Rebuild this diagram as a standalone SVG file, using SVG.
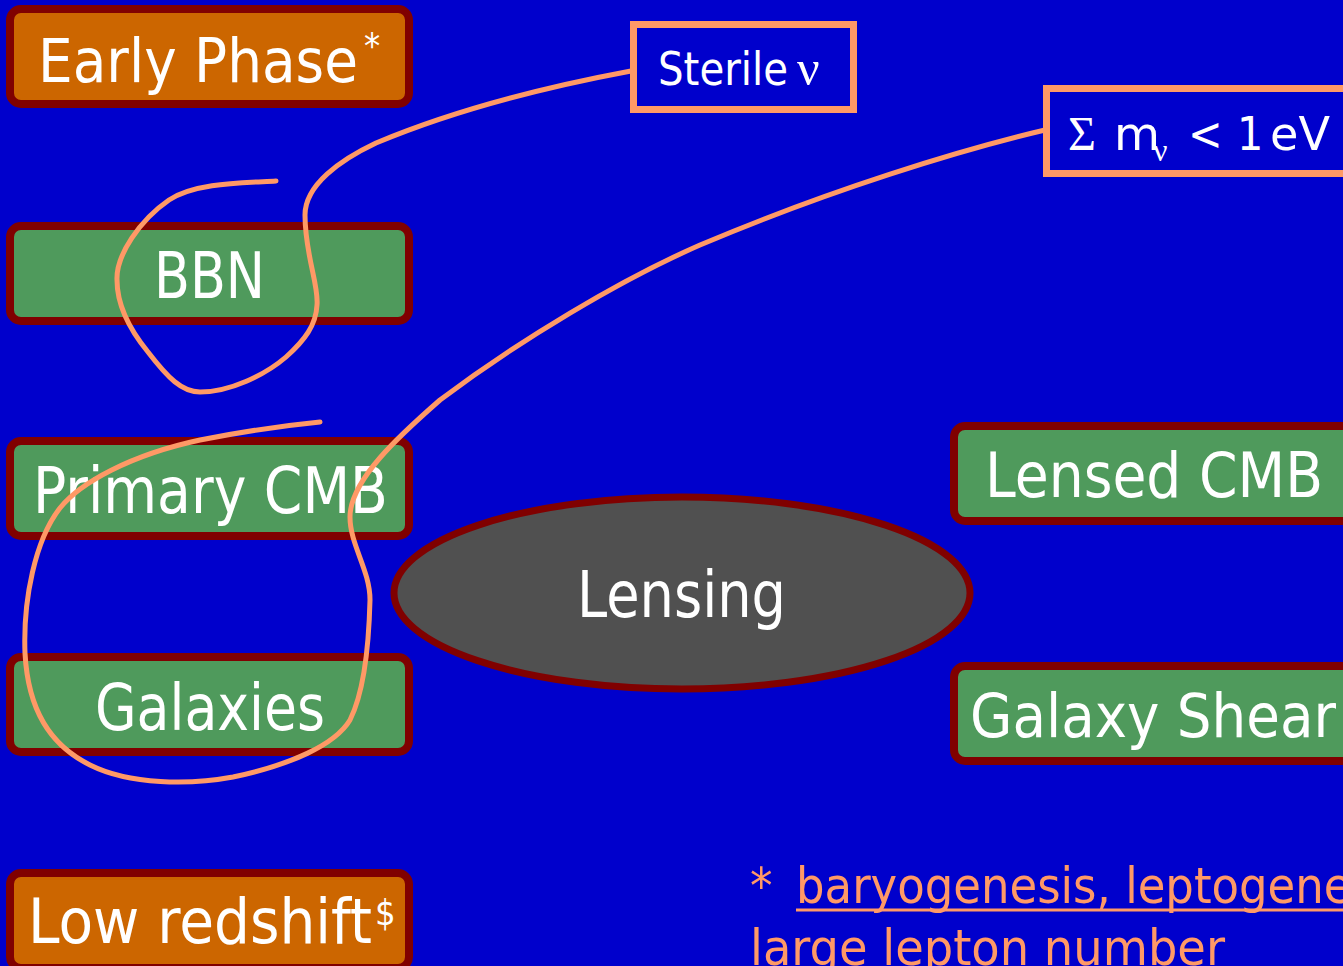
<svg xmlns="http://www.w3.org/2000/svg" width="1343" height="966" viewBox="0 0 1343 966">
<style>
.box{stroke:#800000;stroke-width:8}
.orange{fill:#CC6600}
.green{fill:#4F9A5C}
.lbl{font-family:"DejaVu Sans Condensed","DejaVu Sans",sans-serif;font-stretch:condensed;fill:#FFFFFF}
.sym{font-family:"Liberation Serif","Times New Roman",serif;fill:#FFFFFF}
.note{fill:none;stroke:#FF9966;stroke-width:7}
.curve{fill:none;stroke:#FF9966;stroke-width:5;stroke-linecap:round;stroke-linejoin:round}
.foot{font-family:"DejaVu Sans Condensed","DejaVu Sans",sans-serif;font-stretch:condensed;fill:#FF9966;font-size:50px}
</style>
<rect x="0" y="0" width="1343" height="966" fill="#0000CC"/>

<g id="early-phase">
<rect class="box orange" x="10" y="9" width="399" height="95" rx="11"/>
<text class="lbl" x="38" y="82" font-size="61" textLength="320" lengthAdjust="spacingAndGlyphs">Early Phase</text>
<text class="lbl" x="364" y="58" font-size="36">*</text>
</g>

<g id="bbn">
<rect class="box green" x="10" y="226" width="399" height="95" rx="11"/>
<text class="lbl" x="154" y="298" font-size="64" textLength="111" lengthAdjust="spacingAndGlyphs">BBN</text>
</g>

<g id="primary-cmb">
<rect class="box green" x="10" y="441" width="399" height="95" rx="11"/>
<text class="lbl" x="33" y="513" font-size="64" textLength="355" lengthAdjust="spacingAndGlyphs">Primary CMB</text>
</g>

<g id="galaxies">
<rect class="box green" x="10" y="657" width="399" height="95" rx="11"/>
<text class="lbl" x="95" y="730" font-size="64" textLength="230" lengthAdjust="spacingAndGlyphs">Galaxies</text>
</g>

<g id="low-redshift">
<rect class="box orange" x="10" y="873" width="399" height="95" rx="11"/>
<text class="lbl" x="28" y="943" font-size="62" textLength="344" lengthAdjust="spacingAndGlyphs">Low redshift</text>
<text class="lbl" x="375" y="925" font-size="36">$</text>
</g>

<g id="lensing">
<ellipse cx="682" cy="593" rx="288" ry="96" fill="#505050" stroke="#800000" stroke-width="7"/>
<text class="lbl" x="577" y="617" font-size="64" textLength="209" lengthAdjust="spacingAndGlyphs">Lensing</text>
</g>

<g id="lensed-cmb">
<rect class="box green" x="954" y="426" width="420" height="95" rx="11"/>
<text class="lbl" x="985" y="497" font-size="62" textLength="338" lengthAdjust="spacingAndGlyphs">Lensed CMB</text>
</g>

<g id="galaxy-shear">
<rect class="box green" x="954" y="666" width="420" height="95" rx="11"/>
<text class="lbl" x="970" y="737" font-size="61" textLength="366" lengthAdjust="spacingAndGlyphs">Galaxy Shear</text>
</g>

<g id="sterile-nu">
<rect class="note" x="633.5" y="24.5" width="220" height="85"/>
<text class="lbl" x="658" y="85" font-size="46" textLength="130" lengthAdjust="spacingAndGlyphs">Sterile</text>
<text class="sym" x="797" y="85" font-size="50">ν</text>
</g>

<g id="sum-mnu">
<rect class="note" x="1046.5" y="88.5" width="320" height="85"/>
<text class="sym" x="1068" y="150" font-size="48">Σ</text>
<text class="lbl" x="1114" y="150" font-size="46" textLength="46" lengthAdjust="spacingAndGlyphs">m</text>
<text class="sym" x="1153" y="161" font-size="32">ν</text>
<text class="lbl" x="1188" y="150" font-size="46">&lt;</text>
<text class="lbl" x="1237" y="150" font-size="46">1</text>
<text class="lbl" x="1270" y="150" font-size="46" textLength="60" lengthAdjust="spacingAndGlyphs">eV</text>
</g>

<g id="footnote">
<text class="foot" x="750" y="903">*</text>
<text class="foot" x="796" y="903">baryogenesis, leptogenesis</text>
<line x1="796" y1="910" x2="1343" y2="910" stroke="#FF9966" stroke-width="3"/>
<text class="foot" x="750" y="965" textLength="475" lengthAdjust="spacingAndGlyphs">large lepton number</text>
</g>

<g id="connectors">
<path class="curve" d="M631,71 C540,88 450,112 376,143 C340,160 305,185 305,215 C305,255 319,285 317,305 C316,325 305,340 286,357 C265,375 230,392 200,392 C182,392 168,378 148,352 C130,330 117,305 117,280 C116,255 140,220 169,200 C195,183 240,183 276,181"/>
<path class="curve" d="M1045,130 C960,150 830,190 700,245 C620,280 520,340 440,400 C400,435 350,480 350,517 C350,545 370,570 370,600 C369,640 365,690 350,720 C335,745 290,765 233,777 C190,785 130,785 90,765 C50,745 28,710 25,653 C23,600 35,540 60,508 C80,483 130,455 200,440 C240,432 290,425 320,422"/>
</g>
</svg>
